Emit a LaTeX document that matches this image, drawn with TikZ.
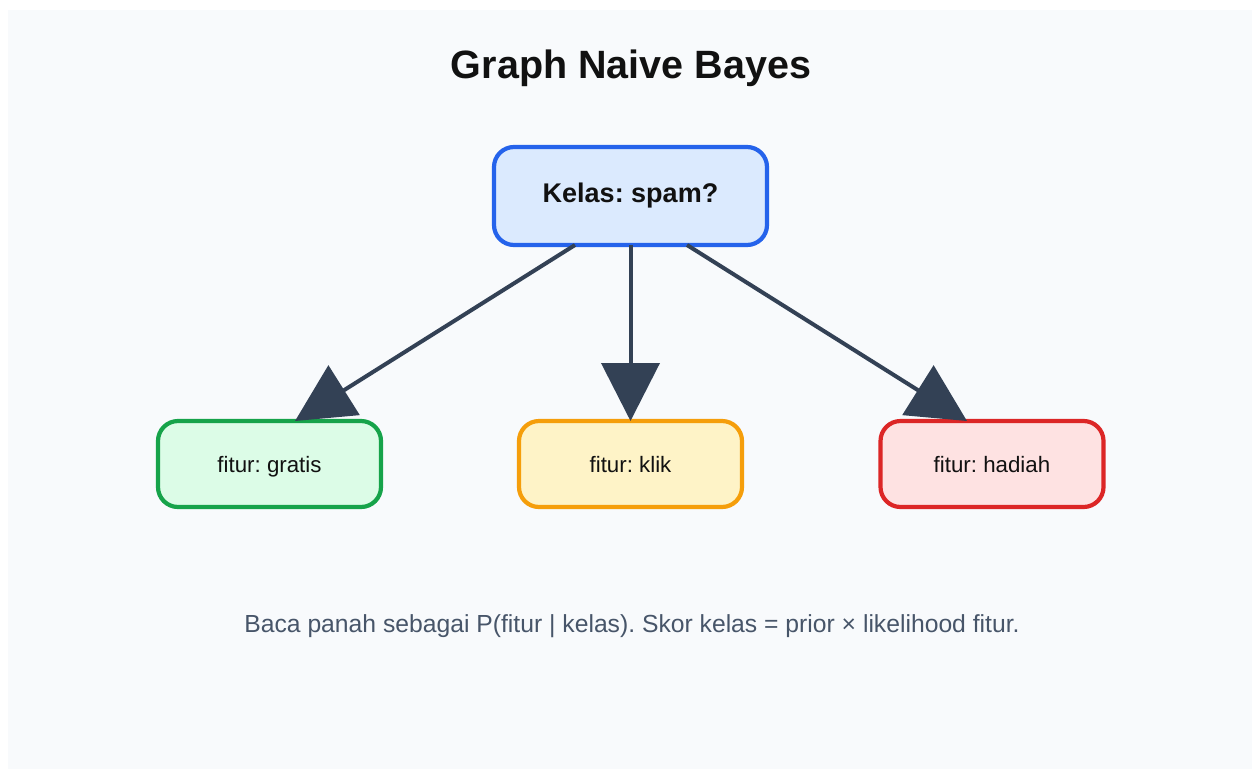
\documentclass[tikz,border=0pt]{standalone}
\usepackage{fontspec}
\setmainfont{Liberation Sans}
\usetikzlibrary{arrows.meta,calc}
\frenchspacing

\definecolor{pagebg}{HTML}{F8FAFC}
\definecolor{ink}{HTML}{111111}
\definecolor{slatetext}{HTML}{475569}
\definecolor{arrowc}{HTML}{334155}
\definecolor{bluefill}{HTML}{DBEAFE}
\definecolor{bluedraw}{HTML}{2563EB}
\definecolor{greenfill}{HTML}{DCFCE7}
\definecolor{greendraw}{HTML}{16A34A}
\definecolor{yellowfill}{HTML}{FEF3C7}
\definecolor{yellowdraw}{HTML}{F59E0B}
\definecolor{redfill}{HTML}{FEE2E2}
\definecolor{reddraw}{HTML}{DC2626}

\tikzset{
  box/.style={rounded corners=20pt, line width=4.2pt, outer sep=0pt,
    text=ink, align=center},
  classbox/.style={box, minimum width=273pt, minimum height=98pt,
    font=\bfseries\fontsize{27}{31}\selectfont},
  featbox/.style={box, minimum width=223pt, minimum height=86pt,
    text depth=0pt, font=\fontsize{22.3}{26}\selectfont},
  link/.style={draw=arrowc, line width=4pt,
    -{Triangle[length=58pt,width=58pt]}, fill=arrowc},
}

\begin{document}
\begin{tikzpicture}[x=1pt,y=-1pt]
  % canvas with a thin white margin on the top and left
  \useasboundingbox (0,0) rectangle (1252,769);
  \fill[white] (0,0) rectangle (1252,769);
  \fill[pagebg] (8,10) rectangle (1252,769);

  % title
  \node[anchor=base, text=ink, font=\bfseries\fontsize{39.5}{45}\selectfont]
    (title) at (631,78) {Graph Naive Bayes};

  % class node
  \node[classbox, fill=bluefill, draw=bluedraw] (kelas) at (630.5,196)
    {Kelas: spam?};

  % feature nodes
  \node[featbox, fill=greenfill, draw=greendraw] (gratis) at (269.5,464)
    {fitur: gratis};
  \node[featbox, fill=yellowfill, draw=yellowdraw] (klik) at (630.5,464)
    {fitur: klik};
  \node[featbox, fill=redfill, draw=reddraw] (hadiah) at (992,464)
    {fitur: hadiah};

  % arrows P(fitur | kelas)
  \draw[link] ($(kelas.south)+(-55.5,0)$) -- ($(gratis.north)+(25.5,0)$);
  \draw[link] (kelas.south) -- (klik.north);
  \draw[link] ($(kelas.south)+(56.5,0)$) -- ($(hadiah.north)+(-25,0)$);

  % caption
  \node[anchor=base, text=slatetext, font=\fontsize{24.7}{29}\selectfont]
    (caption) at (632,632)
    {Baca panah sebagai P(fitur | kelas). Skor kelas = prior × likelihood fitur.};
\end{tikzpicture}
\end{document}
